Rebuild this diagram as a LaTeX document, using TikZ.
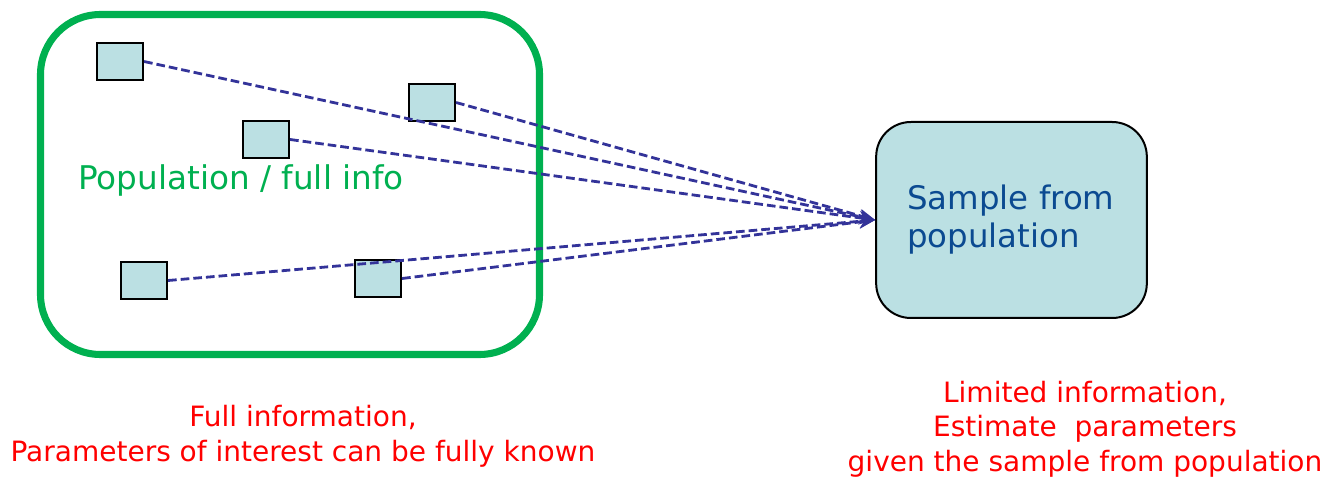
\documentclass[tikz,border=0pt]{standalone}
\usepackage{fontspec}
\setmainfont{DejaVu Sans}
\usetikzlibrary{arrows.meta}
\definecolor{boxfill}{HTML}{BBE0E3}
\definecolor{popgreen}{HTML}{00B050}
\definecolor{linkblue}{HTML}{333399}
\definecolor{samptext}{HTML}{0B4A91}
\definecolor{notered}{HTML}{FF0000}
\tikzset{
  unit/.style={draw=black, line width=1.6pt, fill=boxfill, minimum width=34.5pt, minimum height=27.75pt, inner sep=0pt},
  link/.style={draw=linkblue, line width=2.1pt, dash pattern=on 6.5pt off 3pt, -{Stealth[length=12pt,width=10pt]}},
  note/.style={text=notered, font=\fontsize{21}{26}\selectfont, align=center},
}
\begin{document}
\begin{tikzpicture}[x=0.75pt,y=-0.75pt]
\useasboundingbox (0,0) rectangle (1328,477);
% population frame
\draw[popgreen, line width=5.3pt, rounded corners=45pt] (40.5,14.5) rectangle (539.5,354.5);
\node[anchor=base west, text=popgreen, font=\fontsize{24.5}{28}\selectfont, inner sep=0pt] (poplabel) at (78,190) {Population / full info};
% sample box
\node[draw=black, line width=1.5pt, fill=boxfill, rounded corners=26pt, minimum width=203pt, minimum height=147pt, inner sep=0pt] (sample) at (1011.5,220) {};
\node[anchor=base west, text=samptext, font=\fontsize{24.3}{28.5}\selectfont, align=left, inner sep=0pt] (samplelabel) at (907,248) {Sample from\\population};
% units
\node[unit] (u1) at (120,61.5) {};
\node[unit] (u2) at (432,102.5) {};
\node[unit] (u3) at (266,139.5) {};
\node[unit] (u4) at (144,280.5) {};
\node[unit] (u5) at (378,278.5) {};
% links
\foreach \u in {u1,u2,u3,u4,u5} \draw[link] (\u.east) -- (sample.west);
% notes
\node[note] (leftnote) at (303,436) {Full information,\\Parameters of interest can be fully known};
\node[note] (rightnote) at (1085,429) {Limited information,\\Estimate~ parameters\\given the sample from population};
\end{tikzpicture}
\end{document}
